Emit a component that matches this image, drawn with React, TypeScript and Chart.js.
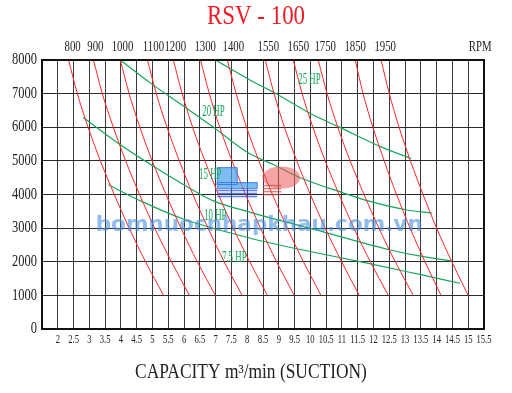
import React, { useEffect, useRef } from 'react';
import { Chart, registerables } from 'chart.js';

Chart.register(...registerables);

// ---------- data ----------
const chartTitle = 'RSV - 100';
const axisTitle = 'CAPACITY m³/min (SUCTION)';

const headLabels = ['0', '1000', '2000', '3000', '4000', '5000', '6000', '7000', '8000'];
const capacityLabels = ['2', '2.5', '3', '3.5', '4', '4.5', '5', '5.5', '6', '6.5', '7', '7.5', '8', '8.5', '9', '9.5', '10', '10.5', '11', '11.5', '12', '12.5', '13', '13.5', '14', '14.5', '15', '15.5'];

// head levels at which each speed curve was read (top to bottom)
const headLevels = [8000, 7000, 6000, 5000, 4000, 3000, 2000, 1000];

// capacity of each speed curve at the head levels above
const rpm800 = [2.34, 2.62, 2.96, 3.35, 3.79, 4.26, 4.78, 5.35];
const rpm900 = [3.13, 3.41, 3.76, 4.15, 4.59, 5.07, 5.6, 6.17];
const rpm1000 = [3.98, 4.26, 4.6, 4.99, 5.43, 5.9, 6.42, 6.99];
const rpm1100 = [4.84, 5.12, 5.46, 5.85, 6.28, 6.76, 7.27, 7.84];
const rpm1200 = [5.66, 5.94, 6.27, 6.66, 7.09, 7.56, 8.08, 8.64];
const rpm1300 = [6.52, 6.8, 7.13, 7.52, 7.95, 8.42, 8.93, 9.49];
const rpm1400 = [7.37, 7.65, 7.98, 8.37, 8.8, 9.27, 9.78, 10.34];
const rpm1550 = [8.57, 8.85, 9.18, 9.57, 10.0, 10.47, 10.99, 11.55];
const rpm1650 = [9.46, 9.74, 10.08, 10.47, 10.91, 11.38, 11.9, 12.47];
const rpm1750 = [10.25, 10.53, 10.87, 11.26, 11.7, 12.17, 12.69, 13.26];
const rpm1850 = [11.42, 11.67, 11.98, 12.34, 12.73, 13.16, 13.63, 14.14];
const rpm1950 = [12.24, 12.5, 12.81, 13.17, 13.57, 14.0, 14.48, 15.0];
const rpmCurves = [rpm800, rpm900, rpm1000, rpm1100, rpm1200, rpm1300, rpm1400, rpm1550, rpm1650, rpm1750, rpm1850, rpm1950];

// top RPM labels and the capacity where each sits
const rpmLabels = ['800', '900', '1000', '1100', '1200', '1300', '1400', '1550', '1650', '1750', '1850', '1950', 'RPM'];
const rpmLabelFlow = [2.47, 3.19, 4.05, 5.03, 5.72, 6.67, 7.56, 8.67, 9.62, 10.47, 11.42, 12.37, 15.38];

// power curves
const hp25Flow = [6.99, 8.1, 8.89, 10.0, 10.95, 12.28, 13.19];
const hp25Head = [8000, 7400, 7010, 6410, 5990, 5400, 5070];
const hp20Flow = [3.98, 4.93, 5.98, 6.9, 8.03, 8.83, 9.68, 11.04, 11.83, 13.07, 13.86];
const hp20Head = [8000, 7320, 6630, 6020, 5240, 4890, 4500, 4050, 3810, 3540, 3450];
const hp15Flow = [2.81, 3.98, 5.03, 6.1, 6.93, 8.1, 10.41, 12.53, 13.57, 14.49];
const hp15Head = [6290, 5480, 4840, 4230, 3810, 3470, 2890, 2350, 2150, 2020];
const hp10Flow = [3.6, 4.62, 5.98, 8.1, 10.22, 11.8, 13.57, 14.74];
const hp10Head = [4290, 3810, 3270, 2700, 2260, 1960, 1600, 1360];

const hpLabels = ['25 HP', '20 HP', '15 HP', '10 HP', '7.5 HP'];
const hpLabelFlow = [9.97, 6.93, 6.83, 6.99, 7.59];
const hpLabelHead = [7430, 6470, 4590, 3360, 2140];

const watermark = 'bomnuocnhapkhau.com.vn';

// ---------- styles ----------
const RED = '#ff2626';
const GREEN = '#14a75a';
const SERIF = '"Liberation Serif", "Times New Roman", serif';

function drawText(
  ctx: CanvasRenderingContext2D,
  text: string,
  x: number,
  y: number,
  size: number,
  sx: number,
  color: string,
  align: CanvasTextAlign,
  font: string = SERIF,
  weight: string = 'normal'
) {
  ctx.save();
  ctx.translate(x, y);
  ctx.scale(sx, 1);
  ctx.font = `${weight} ${size}px ${font}`;
  ctx.fillStyle = color;
  ctx.textAlign = align;
  ctx.textBaseline = 'middle';
  ctx.fillText(text, 0, 0);
  ctx.restore();
}

const decorPlugin = {
  id: 'decor',
  afterDatasetsDraw(chart: any) {
    const { ctx, scales } = chart;
    const xs = scales.x;
    const ys = scales.y;

    // logo watermark
    const ax = xs.getPixelForValue(7.05);
    const ay = ys.getPixelForValue(4800);
    ctx.save();
    ctx.fillStyle = 'rgba(70,160,235,0.7)';
    ctx.strokeStyle = 'rgba(40,100,230,0.75)';
    ctx.lineWidth = 1;
    ctx.beginPath();
    ctx.rect(ax, ay, 20, 17);
    ctx.rect(ax, ay + 15, 40, 6);
    ctx.fill();
    ctx.stroke();
    ctx.strokeStyle = 'rgba(50,90,235,0.8)';
    ctx.lineWidth = 1.5;
    for (let i = 0; i < 3; i++) {
      ctx.beginPath();
      ctx.moveTo(ax, ay + 23 + i * 3);
      ctx.lineTo(ax + 40, ay + 23 + i * 3);
      ctx.stroke();
    }
    ctx.fillStyle = 'rgba(235,90,90,0.55)';
    ctx.beginPath();
    ctx.ellipse(ax + 64, ay + 10, 19, 11, 0, 0, Math.PI * 2);
    ctx.fill();
    ctx.strokeStyle = 'rgba(215,70,70,0.7)';
    for (let i = 0; i < 4; i++) {
      ctx.beginPath();
      ctx.moveTo(ax + 46, ay + 18 + i * 3);
      ctx.lineTo(ax + 64, ay + 18 + i * 3);
      ctx.stroke();
    }
    ctx.restore();

    // text watermark
    ctx.save();
    ctx.globalAlpha = 0.6;
    drawText(ctx, watermark, xs.getPixelForValue(8.38), ys.getPixelForValue(3080), 22, 0.98, '#4a90dc', 'center', '"DejaVu Sans", sans-serif', 'bold');
    ctx.restore();

    // HP labels
    hpLabels.forEach((t, i) => {
      drawText(ctx, t, xs.getPixelForValue(hpLabelFlow[i]), ys.getPixelForValue(hpLabelHead[i]), 17, 0.52, GREEN, 'center');
    });
  },
  afterDraw(chart: any) {
    const { ctx, chartArea, scales } = chart;
    const xs = scales.x;
    const ys = scales.y;
    const { left, right, top, bottom } = chartArea;

    // frame
    ctx.save();
    ctx.strokeStyle = '#111';
    ctx.lineWidth = 2;
    ctx.strokeRect(left, top, right - left, bottom - top);
    ctx.restore();

    // y tick labels
    headLabels.forEach((t) => {
      drawText(ctx, t, left - 5, ys.getPixelForValue(parseFloat(t)), 16, 0.78, '#222', 'right');
    });
    // x tick labels
    capacityLabels.forEach((t) => {
      drawText(ctx, t, xs.getPixelForValue(parseFloat(t)), bottom + 11, 13, 0.66, '#222', 'center');
    });
    // top RPM labels
    rpmLabels.forEach((t, i) => {
      drawText(ctx, t, xs.getPixelForValue(rpmLabelFlow[i]), top - 13, 15, 0.72, '#222', 'center');
    });
    // title
    drawText(ctx, chartTitle, (left + right) / 2 - 7, 17, 27, 0.85, '#ee1c25', 'center');
    // axis title
    drawText(ctx, axisTitle, (left + right) / 2 - 12, bottom + 44, 20, 0.87, '#222', 'center');
  },
};

export default function App() {
  const canvasRef = useRef<HTMLCanvasElement | null>(null);

  useEffect(() => {
    if (!canvasRef.current) return;
    const datasets: any[] = [];
    rpmCurves.forEach((curve) => {
      datasets.push({
        data: curve.map((x, i) => ({ x, y: headLevels[i] })),
        borderColor: RED,
        borderWidth: 1,
        pointRadius: 0,
        fill: false,
        cubicInterpolationMode: 'monotone',
      });
    });
    const hp = [
      [hp25Flow, hp25Head],
      [hp20Flow, hp20Head],
      [hp15Flow, hp15Head],
      [hp10Flow, hp10Head],
    ];
    hp.forEach(([fx, hy]) => {
      datasets.push({
        data: fx.map((x, i) => ({ x, y: hy[i] })),
        borderColor: GREEN,
        borderWidth: 1.2,
        pointRadius: 0,
        fill: false,
        cubicInterpolationMode: 'monotone',
      });
    });

    const chart = new Chart(canvasRef.current, {
      type: 'line',
      data: { datasets },
      options: {
        animation: false,
        responsive: false,
        devicePixelRatio: 1,
        layout: { padding: { top: 60, right: 28, left: 0, bottom: 0 } },
        plugins: { legend: { display: false }, tooltip: { enabled: false }, title: { display: false } },
        scales: {
          x: {
            type: 'linear',
            min: 1.5,
            max: 15.5,
            ticks: { display: false, stepSize: 0.5, maxTicksLimit: 100, autoSkip: false },
            grid: { color: '#3a3a3a', lineWidth: 1, drawTicks: false },
            border: { display: false },
            afterFit: (s: any) => {
              s.height = 64;
            },
          },
          y: {
            type: 'linear',
            min: 0,
            max: 8000,
            ticks: { display: false, stepSize: 1000, maxTicksLimit: 100, autoSkip: false },
            grid: { color: '#2a2a2a', lineWidth: 1, drawTicks: false },
            border: { display: false },
            afterFit: (s: any) => {
              s.width = 42;
            },
          },
        },
      } as any,
      plugins: [decorPlugin],
    });
    return () => chart.destroy();
  }, []);

  return (
    <div style={{ position: 'absolute', left: 0, top: 0, width: 512, height: 393, background: '#fff' }}>
      <canvas ref={canvasRef} width={512} height={393} style={{ width: 512, height: 393, display: 'block' }} />
    </div>
  );
}
